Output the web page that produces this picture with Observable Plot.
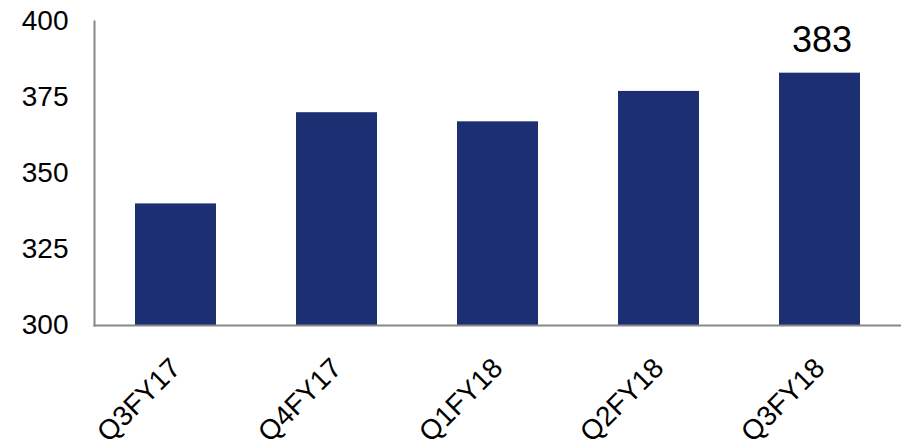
<!DOCTYPE html>
<html>
<head>
<meta charset="utf-8">
<script src="https://cdn.jsdelivr.net/npm/d3@7"></script>
<script src="https://cdn.jsdelivr.net/npm/@observablehq/plot@0.6"></script>
<style>
  html, body { margin: 0; padding: 0; background: #fff; }
</style>
</head>
<body>
<div id="chart"></div>
<script>
const quarters = ["Q3FY17", "Q4FY17", "Q1FY18", "Q2FY18", "Q3FY18"];
const values = [340, 370, 367, 377, 383];
const yTicks = [300, 325, 350, 375, 400];
const labelled = ["Q3FY18"];

const data = quarters.map((q, i) => ({q, v: values[i]}));

const chart = Plot.plot({
  width: 901,
  height: 440,
  marginLeft: 94,
  marginRight: 1.5,
  marginTop: 21,
  marginBottom: 115,
  style: {fontFamily: "'Liberation Sans', Arial, sans-serif", color: "#000", background: "#fff"},
  x: {domain: quarters, paddingInner: 0.5, paddingOuter: 0.25, label: null},
  y: {domain: [300, 400], label: null},
  marks: [
    Plot.barY(data, {x: "q", y1: 300, y2: "v", fill: "#1D2F73"}),
    Plot.frame({anchor: "left", stroke: "#888", strokeWidth: 2}),
    Plot.frame({anchor: "bottom", stroke: "#888", strokeWidth: 2}),
    Plot.axisY({ticks: yTicks, tickSize: 0, tickPadding: 26, fontSize: 28, label: null}),
    Plot.axisX({tickSize: 0, tickRotate: -45, dx: 0, dy: 26, fontSize: 28, label: null}),
    Plot.text(data.filter(d => labelled.includes(d.q)), {x: "q", y: "v", text: d => String(d.v), dy: -33, dx: 2, fontSize: 36, fill: "#000"})
  ]
});
document.getElementById("chart").appendChild(chart);
</script>
</body>
</html>
